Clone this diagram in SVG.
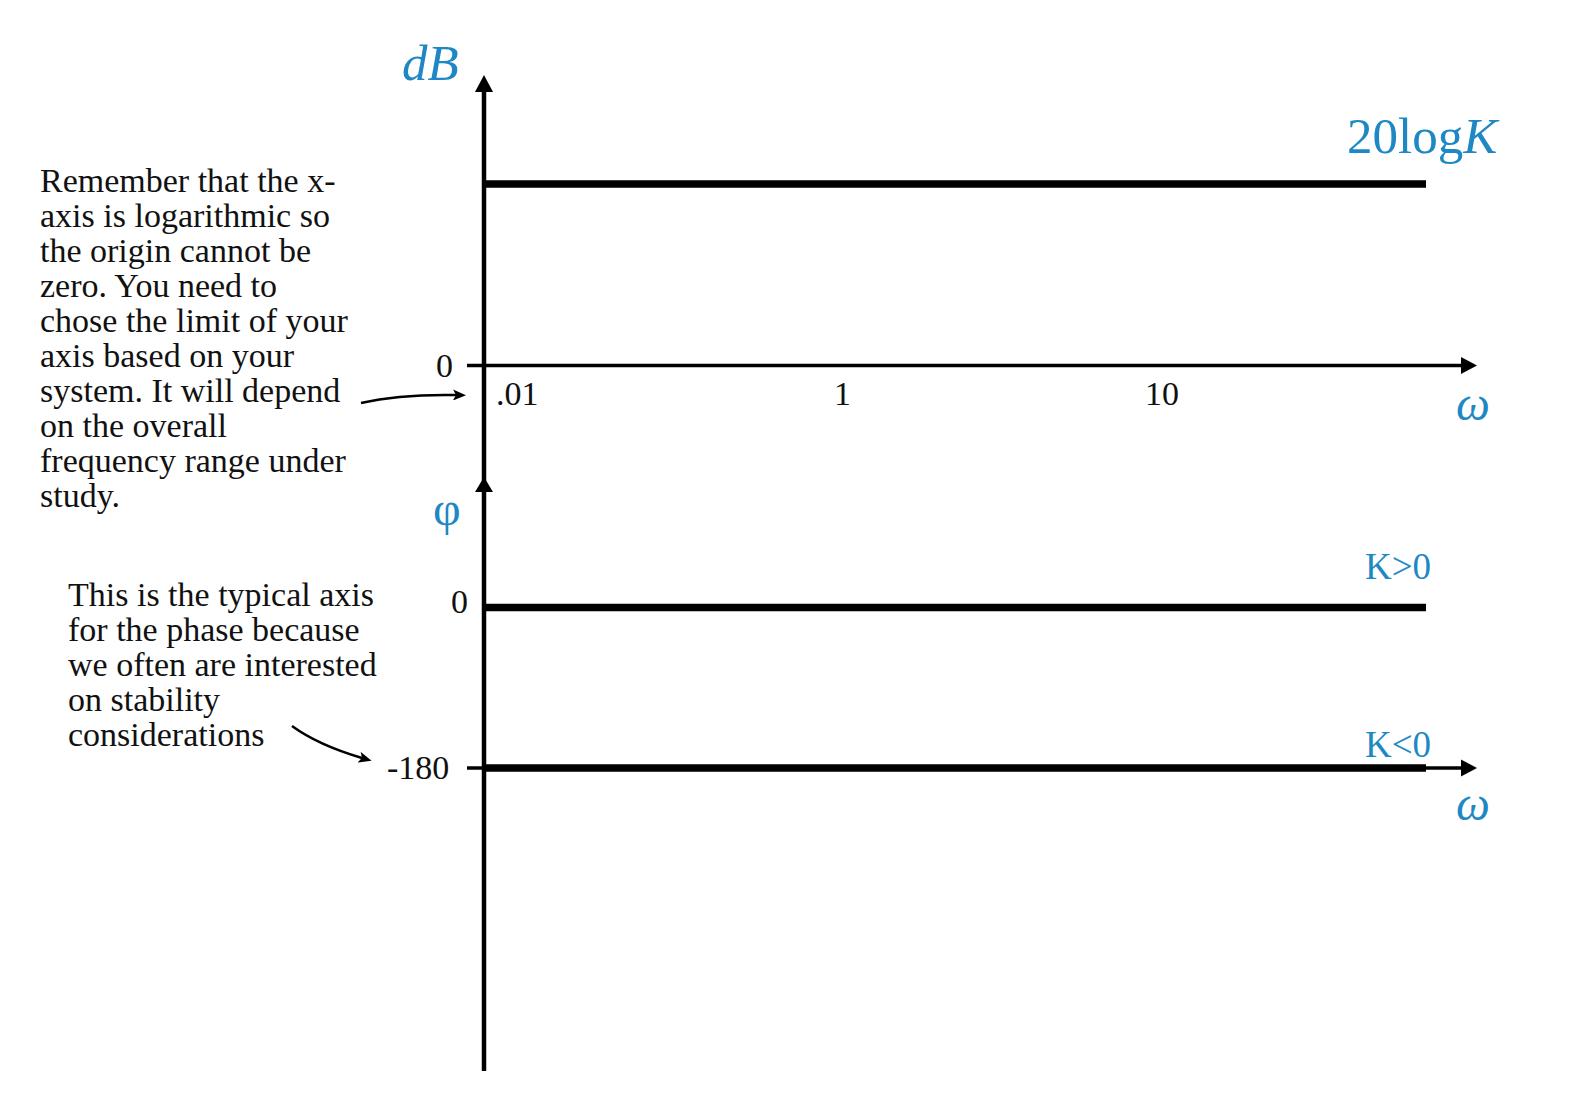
<svg xmlns="http://www.w3.org/2000/svg" width="1580" height="1102" viewBox="0 0 1580 1102">
<style>
.t{font-family:"Liberation Serif","Times New Roman",serif;fill:#111;font-size:34px}
.b{font-family:"Liberation Serif","Times New Roman",serif;fill:#1e88c4}
.i{font-style:italic}
.ax{stroke:#000;stroke-width:4.5;fill:none}
.hx{stroke:#000;stroke-width:3.5;fill:none}
.pl{stroke:#000;stroke-width:7.5;fill:none}
.an{stroke:#000;stroke-width:2.5;fill:none}
.hd{fill:#000}
</style>
<defs>
<marker id="ah" viewBox="0 0 13 11" refX="3" refY="5.5" markerWidth="13" markerHeight="11" markerUnits="userSpaceOnUse" orient="auto">
<path d="M0,0 L13,5.5 L0,11 L3,5.5 z" fill="#000"/>
</marker>
</defs>
<rect width="1580" height="1102" fill="#fff"/>
<g id="vertical-axis">
<line class="ax" x1="484" y1="1071" x2="484" y2="88"/>
<polygon class="hd" points="484,75 475,92 493,92"/>
<polygon class="hd" points="484,477 475,492 493,492"/>
</g>
<g id="magnitude-plot">
<text class="b i" x="402" y="80" font-size="51">dB</text>
<line class="hx" x1="467" y1="365.5" x2="1464" y2="365.5"/>
<polygon class="hd" points="1477,365.5 1461,357 1461,374"/>
<text class="t" x="436" y="377">0</text>
<text class="t" x="496" y="405">.01</text>
<text class="t" x="834" y="405">1</text>
<text class="t" x="1145" y="405">10</text>
<text class="b i" x="1456" y="420" font-size="48">ω</text>
<line class="pl" x1="484" y1="184" x2="1426" y2="184"/>
<text class="b" x="1347" y="153" font-size="51">20log<tspan class="i">K</tspan></text>
</g>
<g id="phase-plot">
<text class="b" x="433" y="525" font-size="48">φ</text>
<text class="t" x="451" y="613">0</text>
<line class="pl" x1="484" y1="607.5" x2="1426" y2="607.5"/>
<text class="b" x="1365" y="579" font-size="37">K&gt;0</text>
<text class="t" x="387" y="779">-180</text>
<line class="hx" x1="467" y1="768" x2="1464" y2="768"/>
<polygon class="hd" points="1477,768 1461,759.5 1461,776.5"/>
<line class="pl" x1="484" y1="768" x2="1426" y2="768"/>
<text class="b" x="1365" y="757" font-size="37">K&lt;0</text>
<text class="b i" x="1456" y="820" font-size="48">ω</text>
</g>
<g id="note-xaxis">
<text class="t" x="40" y="192">Remember that the x-</text>
<text class="t" x="40" y="227">axis is logarithmic so</text>
<text class="t" x="40" y="262">the origin cannot be</text>
<text class="t" x="40" y="297">zero. You need to</text>
<text class="t" x="40" y="332">chose the limit of your</text>
<text class="t" x="40" y="367">axis based on your</text>
<text class="t" x="40" y="402">system. It will depend</text>
<text class="t" x="40" y="437">on the overall</text>
<text class="t" x="40" y="472">frequency range under</text>
<text class="t" x="40" y="507">study.</text>
</g>
<g id="note-phase">
<text class="t" x="68" y="606">This is the typical axis</text>
<text class="t" x="68" y="641">for the phase because</text>
<text class="t" x="68" y="676">we often are interested</text>
<text class="t" x="68" y="711">on stability</text>
<text class="t" x="68" y="746">considerations</text>
</g>
<g id="connectors">
<path class="an" d="M361,403 Q400,394 456,395" marker-end="url(#ah)"/>
<path class="an" d="M292,726 Q318,745 362,758" marker-end="url(#ah)"/>
</g>
</svg>
